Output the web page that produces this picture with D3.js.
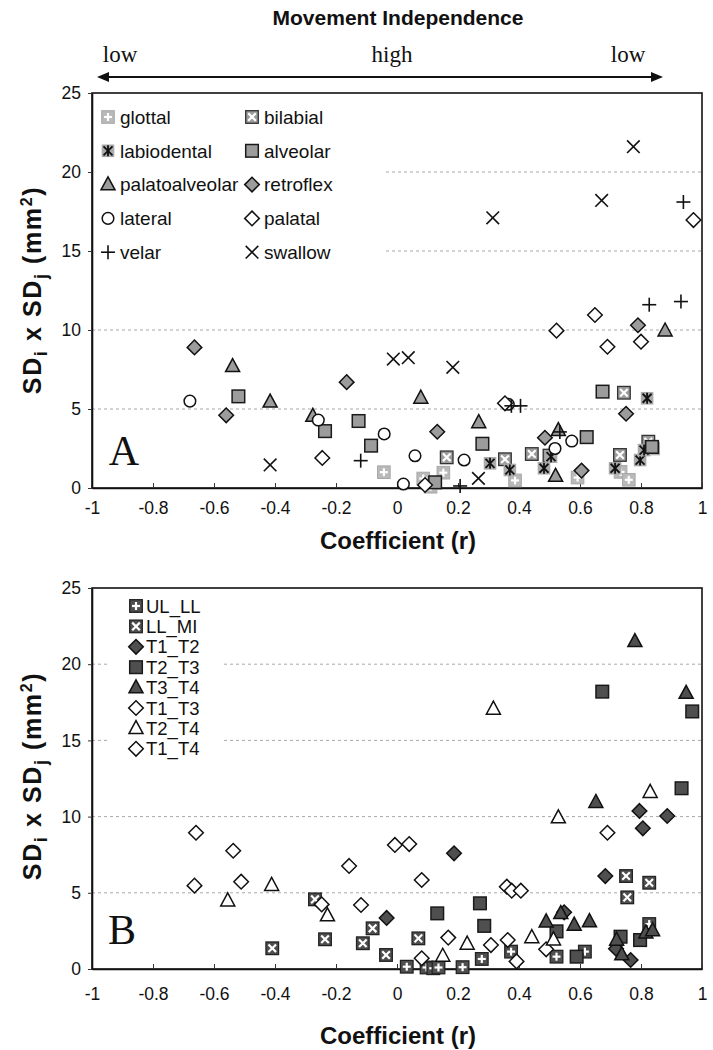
<!DOCTYPE html>
<html><head><meta charset="utf-8">
<script src="https://cdn.jsdelivr.net/npm/d3@7"></script>
<style>body{margin:0;background:#fff}</style>
</head><body>
<svg id="chart" width="713" height="1050"></svg>
<script>
// ---------- tick labels ----------
const xTicks = [-1, -0.8, -0.6, -0.4, -0.2, 0, 0.2, 0.4, 0.6, 0.8, 1];
const yTicks = [0, 5, 10, 15, 20, 25];
const gridValues = [5, 10, 15, 20];

// ---------- Panel A series: [r, SDi x SDj] ----------
const glottal = [[-0.043,1.0],[0.086,0.6],[0.11,0.08],[0.152,0.97],[0.387,0.48],[0.592,0.66],[0.733,1.02],[0.76,0.52],[0.84,2.5]];
const bilabial = [[0.163,1.94],[0.354,1.82],[0.442,2.15],[0.5,2.05],[0.731,2.09],[0.744,6.03],[0.824,2.93]];
const labiodental = [[0.305,1.56],[0.37,1.14],[0.482,1.25],[0.505,1.98],[0.715,1.25],[0.797,1.77],[0.81,2.4],[0.82,5.68]];
const alveolar = [[-0.52,5.8],[-0.236,3.6],[-0.126,4.24],[-0.085,2.68],[0.125,0.36],[0.28,2.8],[0.622,3.22],[0.674,6.1],[0.836,2.6]];
const palatoalveolar = [[-0.539,7.7],[-0.416,5.45],[-0.276,4.55],[0.078,5.7],[0.268,4.15],[0.529,3.65],[0.52,0.75],[0.879,9.95]];
const retroflex = [[-0.664,8.9],[-0.56,4.6],[-0.165,6.7],[0.132,3.56],[0.485,3.18],[0.605,1.1],[0.751,4.7],[0.79,10.3]];
const lateral = [[-0.679,5.5],[-0.258,4.3],[-0.042,3.42],[0.021,0.25],[0.059,2.04],[0.22,1.77],[0.365,5.3],[0.518,2.5],[0.573,2.97]];
const palatal = [[-0.245,1.9],[0.092,0.19],[0.354,5.36],[0.523,9.96],[0.649,10.95],[0.69,8.94],[0.8,9.26],[0.972,16.96]];
const velar = [[-0.119,1.73],[0.207,0.13],[0.375,5.2],[0.405,5.2],[0.534,3.55],[0.827,11.6],[0.931,11.8],[0.939,18.1]];
const swallow = [[-0.416,1.46],[-0.012,8.16],[0.037,8.25],[0.183,7.64],[0.267,0.61],[0.314,17.1],[0.671,18.2],[0.775,21.6]];

// ---------- Panel B series ----------
const UL_LL = [[0.032,0.15],[0.097,0.1],[0.119,0.05],[0.136,0.1],[0.215,0.12],[0.278,0.66],[0.374,1.14],[0.523,0.81],[0.616,1.14],[0.827,2.95]];
const LL_MI = [[-0.409,1.36],[-0.269,4.57],[-0.236,1.95],[-0.112,1.69],[-0.08,2.67],[-0.036,0.92],[0.07,2.01],[0.751,6.1],[0.755,4.7],[0.827,5.66]];
const T1_T2 = [[-0.034,3.35],[0.187,7.59],[0.548,3.72],[0.683,6.1],[0.718,1.33],[0.766,0.59],[0.795,10.37],[0.806,9.23],[0.886,10.04]];
const T2_T3 = [[0.132,3.65],[0.272,4.31],[0.286,2.83],[0.523,2.47],[0.589,0.81],[0.673,18.2],[0.733,2.12],[0.797,1.9],[0.933,11.86],[0.968,16.9]];
const T3_T4 = [[0.489,3.1],[0.537,3.65],[0.581,2.89],[0.631,3.12],[0.652,10.94],[0.72,1.9],[0.737,0.94],[0.78,21.5],[0.816,2.38],[0.838,2.53],[0.948,18.1]];
const T1_T3 = [[-0.664,5.47],[-0.511,5.73],[-0.247,4.24],[-0.118,4.2],[0.081,5.84],[0.081,0.7],[0.168,2.06],[0.308,1.57],[0.363,1.9],[0.392,0.5],[0.489,1.29]];
const T2_T4 = [[-0.555,4.48],[-0.411,5.5],[-0.228,3.5],[0.15,0.85],[0.23,1.64],[0.316,17.06],[0.442,2.07],[0.513,1.92],[0.529,9.93],[0.83,11.6]];
const T1_T4 = [[-0.659,8.94],[-0.537,7.76],[-0.157,6.76],[-0.007,8.14],[0.04,8.2],[0.36,5.4],[0.376,5.14],[0.406,5.14],[0.69,8.94]];

const seriesA = [
  {name:"glottal", data:glottal, m:"glottal"},
  {name:"bilabial", data:bilabial, m:"bilabial"},
  {name:"labiodental", data:labiodental, m:"labiodental"},
  {name:"alveolar", data:alveolar, m:"alveolar"},
  {name:"palatoalveolar", data:palatoalveolar, m:"palatoalveolar"},
  {name:"retroflex", data:retroflex, m:"retroflex"},
  {name:"lateral", data:lateral, m:"lateral"},
  {name:"palatal", data:palatal, m:"palatal"},
  {name:"velar", data:velar, m:"velar"},
  {name:"swallow", data:swallow, m:"swallow"}
];
const seriesB = [
  {name:"UL_LL", data:UL_LL, m:"UL_LL"},
  {name:"LL_MI", data:LL_MI, m:"LL_MI"},
  {name:"T1_T2", data:T1_T2, m:"T1_T2"},
  {name:"T2_T3", data:T2_T3, m:"T2_T3"},
  {name:"T3_T4", data:T3_T4, m:"T3_T4"},
  {name:"T1_T3", data:T1_T3, m:"T1_T3"},
  {name:"T2_T4", data:T2_T4, m:"T2_T4"},
  {name:"T1_T4", data:T1_T4, m:"T1_T4"}
];

const svg = d3.select("#chart");
const FONT = "Arial, 'Liberation Sans', sans-serif";
const SERIF = "'Times New Roman', 'Liberation Serif', serif";

// ---------- marker drawing ----------
function sq(g, fill, stroke, sw){ g.append("rect").attr("x",-6.3).attr("y",-6.3).attr("width",12.6).attr("height",12.6).attr("fill",fill).attr("stroke",stroke||"none").attr("stroke-width",sw||0); }
function ln(g, x1,y1,x2,y2,col,w){ g.append("line").attr("x1",x1).attr("y1",y1).attr("x2",x2).attr("y2",y2).attr("stroke",col).attr("stroke-width",w); }
function diamond(g, fill){ g.append("path").attr("d","M0,-7.3L7.3,0L0,7.3L-7.3,0Z").attr("fill",fill).attr("stroke","#111").attr("stroke-width",1.5); }
function tri(g, fill){ g.append("path").attr("d","M0,-7.8L7,5.2L-7,5.2Z").attr("fill",fill).attr("stroke","#111").attr("stroke-width",1.5).attr("stroke-linejoin","miter"); }
const LG = "#9c9c9c", DG = "#4f4f4f";
function drawMarker(g, type){
  switch(type){
    case "glottal": sq(g,"#b9b9b9","#a8a8a8",1); ln(g,0,-4,0,4,"#fff",2.2); ln(g,-4,0,4,0,"#fff",2.2); break;
    case "bilabial": sq(g,LG,"#333",1.3); ln(g,-3.8,-3.8,3.8,3.8,"#fff",2.2); ln(g,-3.8,3.8,3.8,-3.8,"#fff",2.2); break;
    case "labiodental": sq(g,"#aaaaaa"); ln(g,0,-5.5,0,5.5,"#111",1.8); ln(g,-4.5,-4.5,4.5,4.5,"#111",1.8); ln(g,-4.5,4.5,4.5,-4.5,"#111",1.8); break;
    case "alveolar": sq(g,LG,"#1a1a1a",1.5); break;
    case "palatoalveolar": tri(g,LG); break;
    case "retroflex": diamond(g,LG); break;
    case "lateral": g.append("circle").attr("r",5.8).attr("fill","#fff").attr("stroke","#111").attr("stroke-width",1.5); break;
    case "palatal": diamond(g,"#fff"); break;
    case "velar": ln(g,0,-7,0,7,"#111",1.6); ln(g,-7,0,7,0,"#111",1.6); break;
    case "swallow": ln(g,-6.3,-6.3,6.3,6.3,"#111",1.6); ln(g,-6.3,6.3,6.3,-6.3,"#111",1.6); break;
    case "UL_LL": sq(g,DG,"#222",1.3); ln(g,0,-4,0,4,"#fff",2.2); ln(g,-4,0,4,0,"#fff",2.2); break;
    case "LL_MI": sq(g,DG,"#222",1.3); ln(g,-3.8,-3.8,3.8,3.8,"#fff",2.2); ln(g,-3.8,3.8,3.8,-3.8,"#fff",2.2); break;
    case "T1_T2": diamond(g,DG); break;
    case "T2_T3": sq(g,DG,"#1a1a1a",1.5); break;
    case "T3_T4": tri(g,DG); break;
    case "T1_T3": diamond(g,"#fff"); break;
    case "T2_T4": tri(g,"#fff"); break;
    case "T1_T4": diamond(g,"#fff"); break;
  }
}

// ---------- scales ----------
const x = d3.scaleLinear().domain([-1,1]).range([92,702]);

function panel(opts){
  const y = d3.scaleLinear().domain([0,25]).range([opts.y0, opts.y25]);
  const g = svg.append("g");
  // gridlines
  g.selectAll("line.grid").data(gridValues).join("line")
    .attr("x1",x(-1)).attr("x2",x(1)).attr("y1",d=>y(d)).attr("y2",d=>y(d))
    .attr("stroke","#a8a8a8").attr("stroke-width",1).attr("stroke-dasharray","3,3");
  // legend background
  g.append("rect").attr("x",opts.leg.x).attr("y",opts.leg.y).attr("width",opts.leg.w).attr("height",opts.leg.h).attr("fill","#fff");
  // frame
  g.append("rect").attr("x",x(-1)).attr("y",y(25)).attr("width",x(1)-x(-1)).attr("height",y(0)-y(25))
    .attr("fill","none").attr("stroke","#111").attr("stroke-width",1.6);
  // axes
  const xa = g.append("g").attr("transform",`translate(0,${y(0)})`)
    .call(d3.axisBottom(x).tickValues(xTicks).tickFormat(d=>String(d)).tickSizeInner(-5).tickSizeOuter(0).tickPadding(opts.xpad));
  const ya = g.append("g").attr("transform",`translate(${x(-1)},0)`)
    .call(d3.axisLeft(y).tickValues(yTicks).tickFormat(d=>String(d)).tickSizeInner(4).tickSizeOuter(0).tickPadding(7));
  [xa,ya].forEach(a=>{
    a.select(".domain").attr("stroke","#111").attr("stroke-width",1.6);
    a.selectAll(".tick line").attr("stroke","#333").attr("stroke-width",1);
    a.selectAll(".tick text").attr("font-family",FONT).attr("font-size",17.5).attr("fill","#111");
  });
  // points
  opts.series.forEach(s=>{
    g.append("g").selectAll("g").data(s.data).join("g")
      .attr("transform",d=>`translate(${x(d[0])},${y(d[1])})`)
      .each(function(){ drawMarker(d3.select(this), s.m); });
  });
  // legend
  opts.series.forEach((s,i)=>{
    const p = opts.legPos(i);
    const lg = g.append("g").attr("transform",`translate(${p.mx},${p.y})`);
    drawMarker(lg, s.m);
    g.append("text").attr("x",p.tx).attr("y",p.y+opts.legFont*0.36).text(s.name)
      .attr("font-family",FONT).attr("font-size",opts.legFont).attr("fill","#111");
  });
  // panel letter
  g.append("text").attr("x",opts.letterX).attr("y",opts.letterY).attr("text-anchor","middle")
    .attr("font-family",SERIF).attr("font-size",42).attr("fill","#111").text(opts.letter);
  // axis titles
  g.append("text").attr("x",398).attr("y",opts.xTitleY).attr("text-anchor","middle")
    .attr("font-family",FONT).attr("font-weight","bold").attr("font-size",24).attr("fill","#111").text("Coefficient (r)");
  const yt = g.append("text").attr("transform",`translate(41,${opts.yTitleC}) rotate(-90)`).attr("text-anchor","middle")
    .attr("font-family",FONT).attr("font-weight","bold").attr("font-size",25).attr("letter-spacing",1.6).attr("fill","#111");
  yt.append("tspan").text("SD");
  yt.append("tspan").attr("font-size",18).attr("dy",6).text("i");
  yt.append("tspan").attr("dy",-6).text(" x SD");
  yt.append("tspan").attr("font-size",18).attr("dy",6).text("j");
  yt.append("tspan").attr("dy",-6).text(" (mm");
  yt.append("tspan").attr("font-size",16).attr("dy",-9).text("2");
  yt.append("tspan").attr("dy",9).text(")");
}

panel({
  series: seriesA, y0: 488, y25: 93, xpad: 14,
  leg: {x: 93, y: 95, w: 292, h: 170},
  legFont: 19,
  legPos: i => ({ mx: i%2===0 ? 108 : 252, tx: i%2===0 ? 120 : 264, y: 117 + Math.floor(i/2)*33.8 }),
  letter: "A", letterX: 124, letterY: 465,
  xTitleY: 549, yTitleC: 290
});
panel({
  series: seriesB, y0: 969, y25: 588, xpad: 19,
  leg: {x: 107, y: 590, w: 114, h: 168},
  legFont: 18.5,
  legPos: i => ({ mx: 136, tx: 146, y: 606 + i*20.4 }),
  letter: "B", letterX: 122, letterY: 944,
  xTitleY: 1044, yTitleC: 776
});

// ---------- top annotation ----------
svg.append("text").attr("x",398).attr("y",25).attr("text-anchor","middle")
  .attr("font-family",FONT).attr("font-weight","bold").attr("font-size",21).attr("fill","#111").text("Movement Independence");
[["low",120],["high",392],["low",628]].forEach(([t,px])=>{
  svg.append("text").attr("x",px).attr("y",62).attr("text-anchor","middle")
    .attr("font-family",SERIF).attr("font-size",23).attr("fill","#111").text(t);
});
svg.append("line").attr("x1",104).attr("x2",656).attr("y1",77).attr("y2",77).attr("stroke","#111").attr("stroke-width",2);
svg.append("path").attr("d","M97,77L109,72L109,82Z").attr("fill","#111");
svg.append("path").attr("d","M663,77L651,72L651,82Z").attr("fill","#111");
</script>
</body></html>
